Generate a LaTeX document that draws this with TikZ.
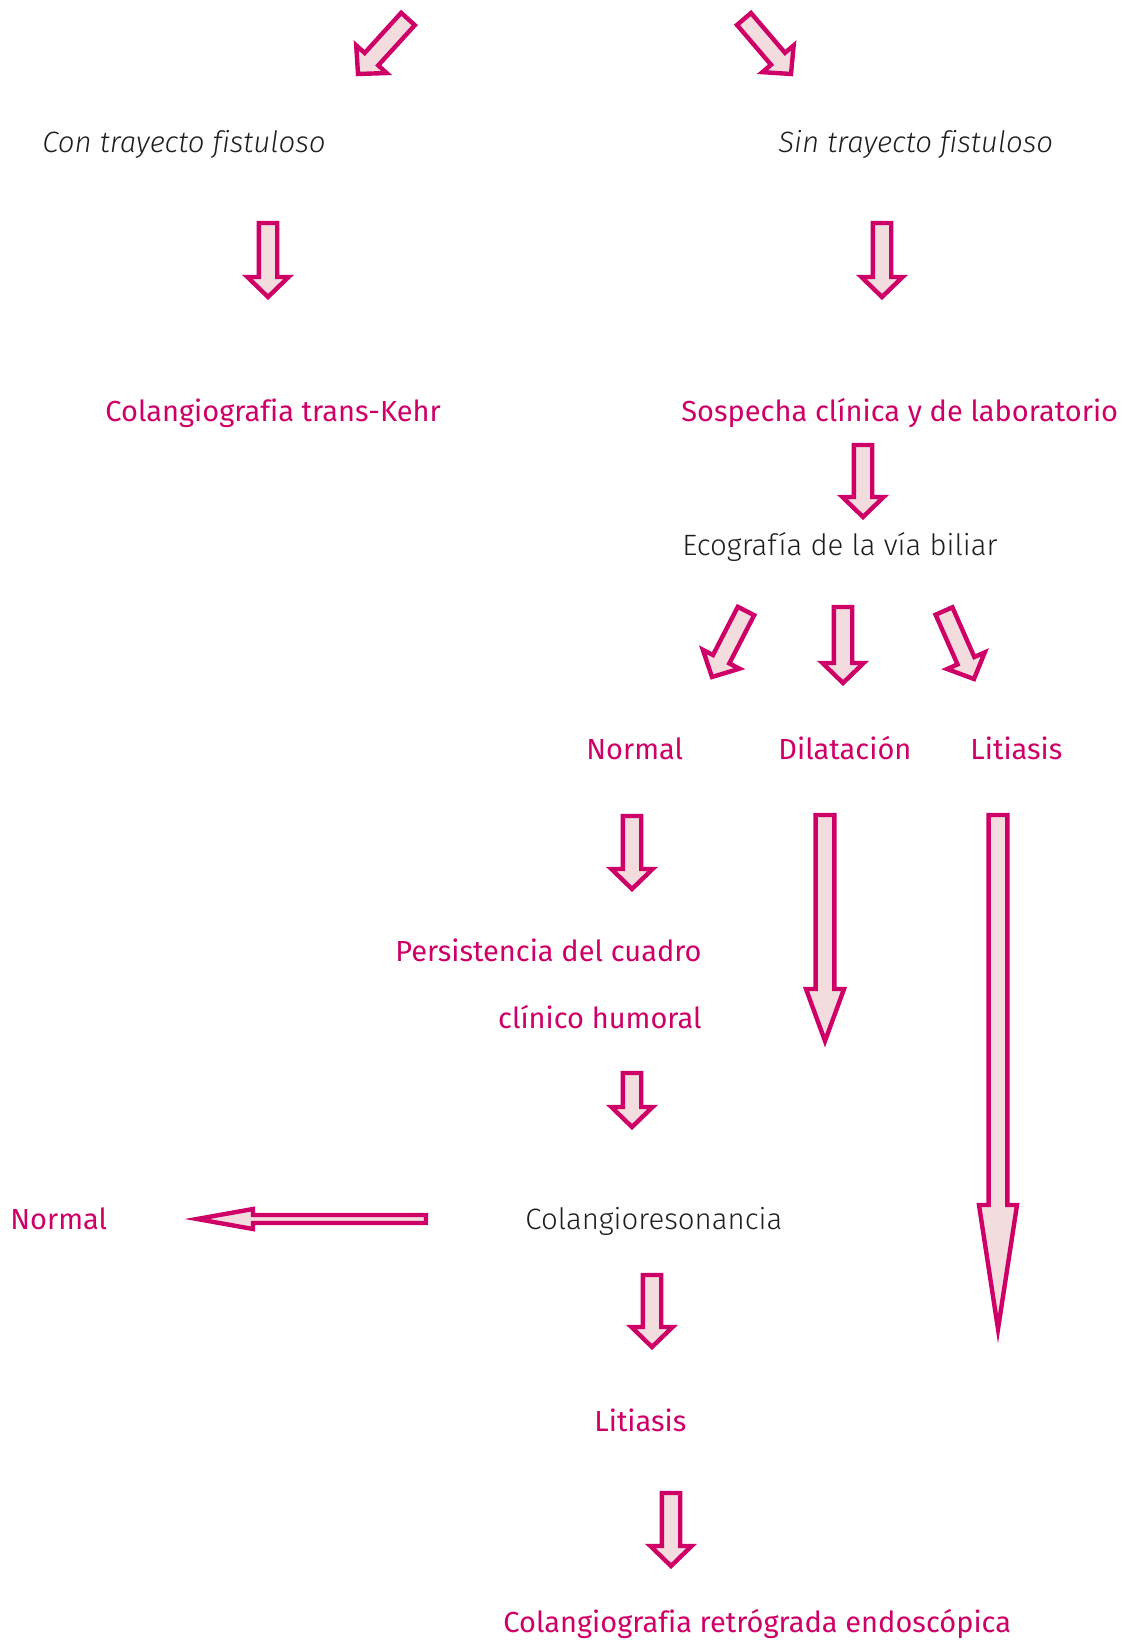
\documentclass[tikz,border=0pt]{standalone}
\usepackage{fontspec}
\setmainfont{Fira Sans}[Ligatures=NoCommon]
\newfontfamily\lightfont{Fira Sans Light}[ItalicFont={Fira Sans Light Italic},Ligatures=NoCommon]
\usepackage{tikz}
\usetikzlibrary{calc,positioning}
\definecolor{rosa}{RGB}{206,0,104}
\definecolor{rosaclaro}{RGB}{242,220,221}
\definecolor{negro}{RGB}{30,30,30}
% block arrow: from, to, half shaft, half head, head length
\newcommand{\flecha}[5]{%
  \coordinate (fa) at (#1); \coordinate (fb) at (#2);
  \coordinate (fh) at ($(fb)!#5!(fa)$);
  \draw[bloque] ($(fa)!#3!90:(fb)$) -- ($(fh)!#3!90:(fb)$) -- ($(fh)!#4!90:(fb)$) -- (fb)
    -- ($(fh)!#4!-90:(fb)$) -- ($(fh)!#3!-90:(fb)$) -- ($(fa)!#3!-90:(fb)$) -- cycle;}

\begin{document}
\begin{tikzpicture}[x=0.5pt,y=-0.5pt,font=\fontsize{14.5}{17}\selectfont,
  bloque/.style={draw=rosa,fill=rosaclaro,line width=2.2pt,line join=miter},
  rojo/.style={text=rosa,inner sep=0pt,anchor=base west},
  gris/.style={text=negro,inner sep=0pt,anchor=base west,font=\fontsize{14.7}{17}\selectfont\lightfont}]
\useasboundingbox (0,0) rectangle (1126,1641);

% texts
\node[gris,font=\fontsize{14.7}{17}\selectfont\lightfont\itshape] (con) at (42,153) {Con trayecto fistuloso};
\node[gris,font=\fontsize{14.7}{17}\selectfont\lightfont\itshape] (sin) at (778,153) {Sin trayecto fistuloso};
\node[rojo] (kehr) at (105,422) {Colangiografia trans-Kehr};
\node[rojo] (sosp) at (681,422) {Sospecha clínica y de laboratorio};
\node[gris] (eco) at (682,555) {Ecografía de la vía biliar};
\node[rojo] (normal) at (586,759) {Normal};
\node[rojo] (dilat) at (778,759) {Dilatación};
\node[rojo] (litia) at (970,759) {Litiasis};
\node[rojo,anchor=base east,align=right,font=\fontsize{14.5}{33.5}\selectfont] (persist) at (702,1028) {Persistencia del cuadro\\clínico humoral};
\node[gris] (colres) at (525,1229) {Colangioresonancia};
\node[rojo] (normalb) at (10,1229) {Normal};
\node[rojo] (litiab) at (594,1431) {Litiasis};
\node[rojo] (cpre) at (503,1632) {Colangiografia retrógrada endoscópica};

% short arrows
\foreach \a/\b in {{408,19}/{358,74},{744,19}/{791,74},{268,223}/{268,297},{882,223}/{882,297},
  {863,445}/{863,517},{746,611}/{712,677},{843,607}/{843,683},{944,611}/{974,679},
  {632,816}/{632,889},{632,1073}/{632,1127},{652,1275}/{652,1347},{671,1493}/{671,1566}}
  {\flecha{\a}{\b}{4.6pt}{10.3pt}{10pt}}
% long arrows
\flecha{825,815}{825,1041}{4.7pt}{9.5pt}{26pt}
\flecha{998,815}{998,1329}{4.7pt}{9.5pt}{62pt}
\flecha{426,1219}{197,1219}{2pt}{5pt}{28pt}
\end{tikzpicture}
\end{document}
